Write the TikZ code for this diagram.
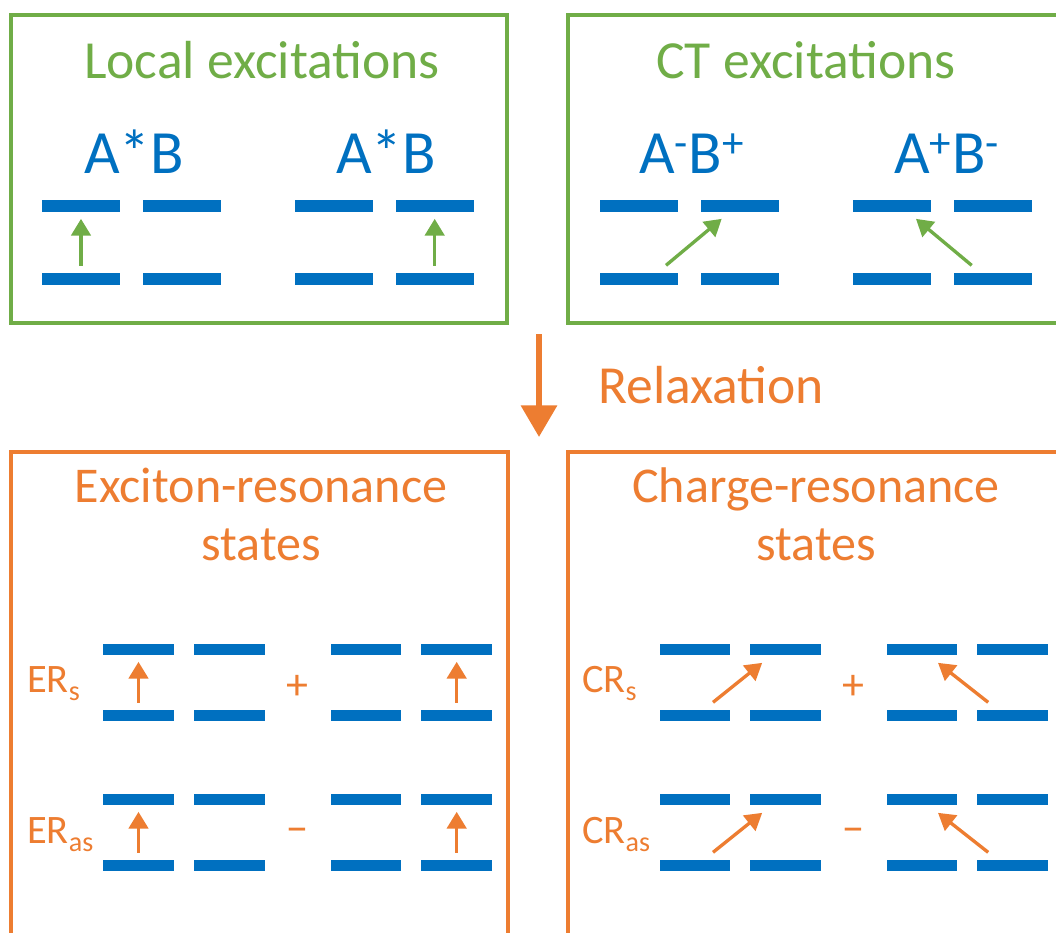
\documentclass[tikz,border=0pt]{standalone}
\usepackage{fontspec}
\setmainfont{Carlito}
\usetikzlibrary{arrows.meta,positioning}
\definecolor{exgreen}{RGB}{112,173,71}
\definecolor{relorange}{RGB}{237,125,49}
\definecolor{lvlblue}{RGB}{0,112,192}

% four levels of a dimer: upper A, upper B, lower A, lower B
\newcommand{\dimer}[5]{%
  \node[#3] (#1ua) at (#2) {};
  \node[#3, right=#4 of #1ua] (#1ub) {};
  \node[#3, below=#5 of #1ua] (#1la) {};
  \node[#3, below=#5 of #1ub] (#1lb) {};}
\newcommand{\statesub}[1]{\raisebox{-5pt}{\fontsize{16}{16}\selectfont #1}}

\begin{document}
\begin{tikzpicture}[x=0.02cm, y=-0.02cm,
    toplvl/.style={fill=lvlblue, inner sep=0, minimum width=1.56cm, minimum height=0.24cm},
    botlvl/.style={fill=lvlblue, inner sep=0, minimum width=1.42cm, minimum height=0.22cm},
    greenbox/.style={draw=exgreen, line width=2pt},
    orangebox/.style={draw=relorange, line width=2.6pt},
    exc/.style={-{Triangle[width=11pt,length=9.5pt]}, line width=1.9pt},
    upexc/.style={exc, shorten <=0.13cm, shorten >=0.14cm},
    title/.style={font=\fontsize{30.5}{33}\selectfont, align=center},
    dimername/.style={text=lvlblue, font=\fontsize{35}{40}\selectfont, anchor=base},
    statename/.style={text=relorange, font=\fontsize{23}{28}\selectfont, anchor=base west},
    sign/.style={text=relorange, font=\fontsize{25}{28}\selectfont}]
  \useasboundingbox (0,0) rectangle (1056,933);
  \clip (0,0) rectangle (1056,933);

  % boxes
  \draw[greenbox] (11,15) rectangle (507,323);
  \draw[greenbox] (568,15) rectangle (1080,323);
  \draw[orangebox] (11,452) rectangle (508,960);
  \draw[orangebox] (568,452) rectangle (1080,960);

  % local excitations
  \node[title, text=exgreen, anchor=base] (loctitle) at (262,78) {Local excitations};
  \node[dimername] (loc1) at (134,173) {A*B};
  \node[dimername] (loc2) at (386,173) {A*B};
  \dimer{l1}{81,205.5}{toplvl}{0.44cm}{1.21cm}
  \dimer{l2}{334,205.5}{toplvl}{0.44cm}{1.21cm}
  \draw[upexc, exgreen] (l1la) -- (l1ua);
  \draw[upexc, exgreen] (l2lb) -- (l2ub);

  % CT excitations
  \node[title, text=exgreen, anchor=base] (cttitle) at (806,78) {CT excitations};
  \node[dimername] (ct1) at (692,173) {A\textsuperscript{-}B\textsuperscript{+}};
  \node[dimername] (ct2) at (947,173) {A\textsuperscript{+}B\textsuperscript{-}};
  \dimer{c1}{639,205.5}{toplvl}{0.44cm}{1.21cm}
  \dimer{c2}{892,205.5}{toplvl}{0.44cm}{1.21cm}
  \draw[exc, exgreen] ([xshift=0.54cm,yshift=0.14cm]c1la.north) -- ([xshift=-0.36cm,yshift=-0.14cm]c1ub.south);
  \draw[exc, exgreen] ([xshift=-0.42cm,yshift=0.14cm]c2lb.north) -- ([xshift=0.48cm,yshift=-0.14cm]c2ua.south);

  % relaxation
  \coordinate (relaxtop) at (539,334);
  \coordinate (relaxbot) at (539,437);
  \draw[-{Triangle[width=20pt,length=18pt]}, line width=3.4pt, relorange] (relaxtop) -- (relaxbot);
  \node[text=relorange, font=\fontsize{30.5}{33}\selectfont, anchor=base west] (relax) at (592,403) {Relaxation};

  % exciton-resonance states
  \node[title, text=relorange, anchor=base, font=\fontsize{28.5}{33}\selectfont] (ertitle) at (261,560) {Exciton-resonance\\states};
  \node[statename] (ers) at (21,692) {ER\statesub{s}};
  \node[statename] (eras) at (21,843) {ER\statesub{as}};
  \dimer{es1}{138.5,649}{botlvl}{0.38cm}{1.09cm}
  \dimer{es2}{366,649}{botlvl}{0.38cm}{1.09cm}
  \dimer{ea1}{138.5,799}{botlvl}{0.38cm}{1.09cm}
  \dimer{ea2}{366,799}{botlvl}{0.38cm}{1.09cm}
  \foreach \d/\l in {es1/a, es2/b, ea1/a, ea2/b}
    \draw[upexc, relorange] (\d l\l) -- (\d u\l);
  \node[sign] (erplus) at (297,687) {+};
  \node[sign] (erminus) at (297,836) {−};

  % charge-resonance states
  \node[title, text=relorange, anchor=base, font=\fontsize{28.5}{33}\selectfont] (crtitle) at (816,560) {Charge-resonance\\states};
  \node[statename] (crs) at (576,692) {CR\statesub{s}};
  \node[statename] (cras) at (576,843) {CR\statesub{as}};
  \dimer{cs1}{695,649}{botlvl}{0.38cm}{1.09cm}
  \dimer{cs2}{922,649}{botlvl}{0.38cm}{1.09cm}
  \dimer{ca1}{695,799}{botlvl}{0.38cm}{1.09cm}
  \dimer{ca2}{922,799}{botlvl}{0.38cm}{1.09cm}
  \foreach \d in {cs1, ca1}
    \draw[exc, relorange] ([xshift=0.36cm,yshift=0.14cm]\d la.north) -- ([xshift=-0.47cm,yshift=-0.16cm]\d ub.south);
  \foreach \d in {cs2, ca2}
    \draw[exc, relorange] ([xshift=-0.49cm,yshift=0.14cm]\d lb.north) -- ([xshift=0.32cm,yshift=-0.16cm]\d ua.south);
  \node[sign] (crplus) at (853,687) {+};
  \node[sign] (crminus) at (853,836) {−};
\end{tikzpicture}
\end{document}
